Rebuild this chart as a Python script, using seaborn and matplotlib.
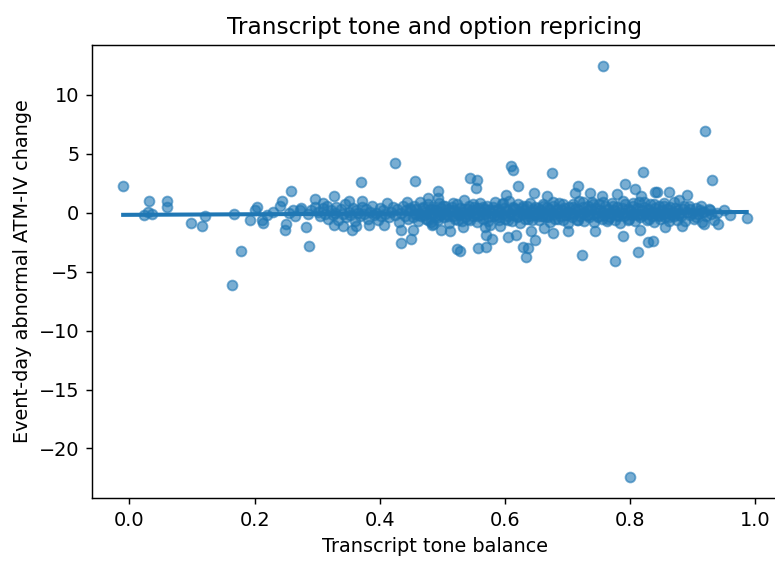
import matplotlib
matplotlib.use("Agg")
import matplotlib.pyplot as plt
import seaborn as sns
import pandas as pd

# (tone balance, abnormal ATM-IV change)
far_points = [
    (-0.010, 2.29), (0.032, 1.0), (0.030, 0.1), (0.024, -0.2), (0.036, -0.1),
    (0.060, 0.96), (0.060, 0.48), (0.098, -0.87), (0.116, -1.16), (0.121, -0.25),
    (0.167, -0.1), (0.179, -3.28), (0.164, -6.1), (0.193, -0.6), (0.201, 0.25),
    (0.204, 0.48), (0.212, -0.6), (0.214, -0.87), (0.240, 0.6), (0.244, 1.0),
    (0.258, 1.81), (0.250, -0.93), (0.249, -1.44), (0.261, 0.2), (0.272, 0.2),
    (0.282, -1.21), (0.287, -2.85), (0.296, 1.16), (0.296, 0.53),
    (0.22, -0.2), (0.23, 0.1), (0.255, 0.0), (0.265, -0.3), (0.275, 0.4),
    (0.285, -0.1), (0.29, 0.2),
]

mid_points = [
    (0.425, 4.2), (0.371, 2.6), (0.456, 2.7), (0.327, 1.38), (0.309, 0.82),
    (0.351, 0.96), (0.372, 0.96), (0.327, -1.0), (0.341, -1.16), (0.356, -1.44),
    (0.362, -1.1), (0.383, -1.0), (0.407, -1.0), (0.435, -1.44), (0.435, -2.57),
    (0.450, -2.23), (0.453, -1.44), (0.477, 1.24), (0.444, 0.87), (0.484, -1.0),
    (0.610, 3.93), (0.614, 3.64), (0.545, 2.94), (0.556, 2.74), (0.554, 2.09),
    (0.494, 1.81), (0.494, 1.24), (0.622, 2.23), (0.647, 1.67), (0.602, 1.53),
    (0.486, -0.93), (0.499, -1.44), (0.512, -1.58), (0.533, -1.21), (0.568, -1.21),
    (0.570, -1.86), (0.579, -2.23), (0.523, -3.08), (0.529, -3.28), (0.557, -2.99),
    (0.570, -2.94), (0.592, -1.1), (0.605, -2.06), (0.618, -1.86), (0.630, -2.91),
    (0.637, -2.99), (0.634, -3.76), (0.642, -1.58), (0.648, -2.29), (0.663, -1.3),
]

right_points = [
    (0.676, 3.36), (0.821, 3.42), (0.718, 2.23), (0.792, 2.46), (0.808, 2.0),
    (0.713, 1.67), (0.737, 1.67), (0.755, 1.44), (0.779, 1.61), (0.818, 1.44),
    (0.840, 1.72), (0.668, 1.38), (0.677, -1.72), (0.702, -1.58), (0.744, -1.58),
    (0.790, -1.95), (0.816, -1.44), (0.829, -2.51), (0.814, -3.36), (0.723, -3.62),
    (0.777, -4.07), (0.931, 2.8), (0.843, 1.72), (0.862, 1.72), (0.892, 1.53),
    (0.879, 1.04), (0.919, -0.93), (0.941, -0.99), (0.961, -0.23), (0.987, -0.45),
    (0.856, -1.21), (0.884, -1.1), (0.916, 0.1), (0.837, -2.43),
    (0.758, 12.48), (0.921, 6.95), (0.800, -22.46),
]

band_low = [
    (0.301, 0.1), (0.305, -0.3), (0.309, 0.4), (0.312, -0.1), (0.316, 0.6), (0.318, -0.5),
    (0.322, 0.2), (0.325, -0.2), (0.329, 0.0), (0.331, 0.5), (0.334, -0.6), (0.338, 0.3),
    (0.341, -0.1), (0.344, 0.7), (0.347, -0.4), (0.351, 0.1), (0.353, -0.2), (0.357, 0.4),
    (0.360, -0.7), (0.363, 0.2), (0.366, 0.0), (0.369, -0.3), (0.372, 0.5), (0.375, -0.1),
    (0.378, 0.3), (0.381, -0.5), (0.384, 0.1), (0.388, 0.6), (0.391, -0.2), (0.394, 0.0),
    (0.397, -0.6), (0.400, 0.4), (0.403, -0.3), (0.406, 0.2), (0.409, -0.1), (0.412, 0.8),
    (0.415, -0.4), (0.418, 0.1), (0.421, 0.5), (0.424, -0.2), (0.428, 0.3), (0.431, -0.8),
    (0.434, 0.0), (0.437, 0.6), (0.440, -0.3), (0.443, 0.2), (0.446, -0.5), (0.449, 0.4),
]

band_mid = [
    (0.451, 0.2), (0.453, -0.4), (0.455, 0.6), (0.457, -0.1), (0.459, 0.3), (0.461, -0.7),
    (0.463, 0.0), (0.465, 0.9), (0.467, -0.3), (0.469, 0.4), (0.471, -0.2), (0.473, 0.1),
    (0.475, -0.5), (0.477, 0.7), (0.479, -0.1), (0.481, 0.3), (0.483, -0.8), (0.485, 0.5),
    (0.487, 0.0), (0.489, -0.3), (0.491, 0.2), (0.493, -0.6), (0.495, 0.8), (0.497, -0.2),
    (0.499, 0.4), (0.501, 0.0), (0.503, -0.4), (0.505, 0.6), (0.507, -0.1), (0.509, 0.3),
    (0.511, -0.9), (0.513, 0.1), (0.515, 0.5), (0.517, -0.3), (0.519, 0.2), (0.521, -0.5),
    (0.523, 0.7), (0.525, 0.0), (0.527, -0.2), (0.529, 0.4), (0.531, -0.7), (0.533, 0.1),
    (0.535, 1.1), (0.537, -0.4), (0.539, 0.3), (0.541, -0.1), (0.543, 0.6), (0.545, -0.6),
    (0.547, 0.2), (0.549, -0.3), (0.551, 0.5), (0.553, 0.0), (0.555, -0.8), (0.557, 0.4),
    (0.559, -0.2), (0.561, 0.8), (0.563, 0.1), (0.565, -0.5), (0.567, 0.3), (0.569, -0.1),
    (0.571, 0.6), (0.573, -0.4), (0.575, 0.2), (0.577, -1.0), (0.579, 0.0), (0.581, 0.5),
    (0.583, -0.3), (0.585, 0.9), (0.587, -0.2), (0.589, 0.3), (0.591, -0.6), (0.593, 0.1),
    (0.595, 0.7), (0.597, -0.1), (0.599, 0.4), (0.601, -0.5), (0.603, 0.2), (0.605, -0.3),
    (0.607, 1.0), (0.609, 0.0), (0.611, -0.7), (0.613, 0.5), (0.615, -0.2), (0.617, 0.3),
    (0.619, -0.4), (0.621, 0.7), (0.623, 0.1), (0.625, -0.9), (0.627, 0.4), (0.629, -0.1),
    (0.631, 0.2), (0.633, -0.5), (0.635, 0.6), (0.637, 0.0), (0.639, -0.3), (0.641, 0.8),
    (0.643, -0.6), (0.645, 0.3), (0.647, -0.2), (0.649, 0.5),
]

band_high = [
    (0.651, -0.1), (0.653, 0.4), (0.655, -0.6), (0.657, 0.2), (0.659, -0.3), (0.661, 0.7),
    (0.663, 0.0), (0.665, -0.4), (0.667, 0.5), (0.669, -0.2), (0.671, 0.3), (0.673, -0.8),
    (0.675, 0.1), (0.677, 0.6), (0.679, -0.1), (0.681, -0.5), (0.683, 0.3), (0.685, 0.0),
    (0.687, 0.8), (0.689, -0.3), (0.691, 0.2), (0.693, -0.6), (0.695, 0.4), (0.697, -0.2),
    (0.699, 0.1), (0.701, -0.9), (0.703, 0.5), (0.705, 0.0), (0.707, -0.4), (0.709, 0.7),
    (0.711, -0.1), (0.713, 0.3), (0.715, -0.6), (0.717, 0.2), (0.719, 1.0), (0.721, -0.3),
    (0.723, 0.0), (0.725, 0.5), (0.727, -0.7), (0.729, 0.1), (0.731, -0.2), (0.733, 0.6),
    (0.735, -0.4), (0.737, 0.3), (0.739, 0.9), (0.741, -0.1), (0.743, -0.8), (0.745, 0.4),
    (0.747, 0.0), (0.749, -0.3), (0.751, 0.7), (0.753, 0.2), (0.755, -0.5), (0.757, 0.1),
    (0.759, -0.2), (0.761, 0.6), (0.763, -0.7), (0.765, 0.3), (0.767, 0.0), (0.769, -0.4),
    (0.771, 0.8), (0.773, -0.1), (0.775, 0.2), (0.777, -0.6), (0.779, 0.5), (0.781, -0.2),
    (0.783, 0.1), (0.785, -0.9), (0.787, 0.4), (0.789, 0.0), (0.791, -0.3), (0.793, 0.7),
    (0.795, -0.1), (0.797, 0.3), (0.799, -0.5), (0.801, 0.2), (0.803, -0.2), (0.805, 0.6),
    (0.807, 0.0), (0.809, -0.7), (0.811, 0.4), (0.813, -0.1), (0.815, 0.9), (0.817, -0.4),
    (0.819, 0.2), (0.821, -0.2), (0.823, 0.5), (0.825, 0.0), (0.827, -0.6), (0.829, 0.3),
    (0.831, -0.1), (0.833, 0.7), (0.835, -0.3), (0.837, 0.1), (0.839, -0.8), (0.841, 0.4),
    (0.843, 0.0), (0.845, -0.2), (0.847, 0.6), (0.849, -0.5), (0.851, 0.2), (0.853, -0.1),
    (0.855, 0.8), (0.857, -0.4), (0.859, 0.3), (0.861, 0.0), (0.863, -0.7), (0.865, 0.5),
    (0.867, -0.2), (0.869, 0.1), (0.871, -0.3), (0.873, 0.4), (0.875, -0.6), (0.877, 0.2),
    (0.879, 0.0),
]

band_tail = [
    (0.882, -0.3), (0.885, 0.3), (0.888, -0.7), (0.891, 0.1), (0.894, 0.6), (0.897, -0.2),
    (0.900, 0.0), (0.903, -0.5), (0.906, 0.4), (0.909, -0.1), (0.912, 0.2), (0.915, -0.8),
    (0.918, 0.1), (0.922, -0.3), (0.926, 0.3), (0.930, -0.1), (0.935, -0.6), (0.940, 0.0),
    (0.950, 0.2),
]

# second pass over the dense core of the band
band_core = [
    (0.462, -0.2), (0.470, 0.5), (0.478, -0.6), (0.486, 0.3), (0.494, -0.4), (0.502, 0.6),
    (0.510, -0.3), (0.518, 0.8), (0.526, -0.6), (0.534, 0.3), (0.542, -0.5), (0.550, 0.7),
    (0.558, -0.3), (0.566, 0.5), (0.574, -0.7), (0.582, 0.2), (0.590, -0.4), (0.598, 0.8),
    (0.606, -0.6), (0.614, 0.4), (0.622, -0.3), (0.630, 0.6), (0.638, -0.5), (0.646, 0.1),
    (0.654, -0.3), (0.662, 0.6), (0.670, -0.4), (0.678, 0.9), (0.686, -0.5), (0.694, 0.7),
    (0.702, -0.2), (0.710, 0.5), (0.718, -0.6), (0.726, 0.9), (0.734, -0.2), (0.742, 0.7),
    (0.750, -0.4), (0.758, 0.9), (0.766, -0.5), (0.774, 0.6), (0.782, -0.3), (0.790, 1.0),
    (0.798, -0.6), (0.806, 0.8), (0.814, -0.2), (0.822, 0.9), (0.830, -0.5), (0.838, 0.7),
    (0.846, -0.3), (0.854, 0.6), (0.862, -0.4), (0.870, 0.9), (0.878, -0.2), (0.886, 0.6),
    (0.896, 0.3), (0.906, -0.4), (0.914, 0.6), (0.928, 0.2),
]

groups = [far_points, mid_points, right_points, band_low, band_mid, band_high,
          band_tail, band_core]
df = pd.concat([pd.DataFrame(g, columns=["tone", "iv_change"]) for g in groups], ignore_index=True)

fig = plt.figure(figsize=(775 / 130, 566 / 130), dpi=130)
ax = fig.add_axes([0.1187, 0.120, 0.885, 0.8004])

sns.regplot(data=df, x="tone", y="iv_change", ci=None, ax=ax,
            scatter_kws={"alpha": 0.6, "s": 30})

ax.set_title("Transcript tone and option repricing", fontsize=12.8)
ax.set_xlabel("Transcript tone balance", fontsize=10.7)
ax.set_ylabel("Event-day abnormal ATM-IV change", fontsize=10.7)
ax.tick_params(labelsize=10.7)

fig.savefig("out.png", dpi=130)
